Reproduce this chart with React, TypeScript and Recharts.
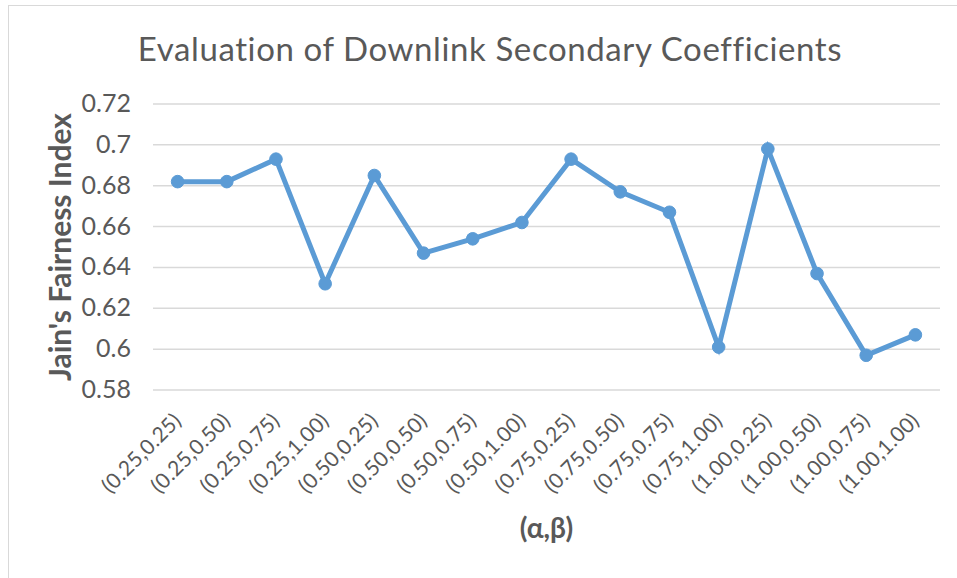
import React from 'react';
import { LineChart, Line, XAxis, YAxis, CartesianGrid } from 'recharts';

const categories = [
  '(0.25,0.25)', '(0.25,0.50)', '(0.25,0.75)', '(0.25,1.00)',
  '(0.50,0.25)', '(0.50,0.50)', '(0.50,0.75)', '(0.50,1.00)',
  '(0.75,0.25)', '(0.75,0.50)', '(0.75,0.75)', '(0.75,1.00)',
  '(1.00,0.25)', '(1.00,0.50)', '(1.00,0.75)', '(1.00,1.00)',
];

const fairness = [
  0.682, 0.682, 0.693, 0.632,
  0.685, 0.647, 0.654, 0.662,
  0.693, 0.677, 0.667, 0.601,
  0.698, 0.637, 0.597, 0.607,
];

const yTicks = [0.58, 0.6, 0.62, 0.64, 0.66, 0.68, 0.7, 0.72];

const data = categories.map((name, i) => ({ name, value: fairness[i] }));

const FONT = 'Lato, "Open Sans", sans-serif';
const GREY = '#595959';

function XTick(props: any) {
  const { x, y, payload } = props;
  const ax = x + 5;
  const ay = y + 24;
  return (
    <text
      x={ax}
      y={ay}
      transform={`rotate(-45, ${ax}, ${ay})`}
      textAnchor="end"
      fill={GREY}
      fontSize={21}
      letterSpacing={0.3}
      fontFamily={FONT}
    >
      {payload.value}
    </text>
  );
}

function YTick(props: any) {
  const { x, y, payload } = props;
  return (
    <text x={x + 1} y={y} dy={8} textAnchor="end" fill={GREY} fontSize={25} fontFamily={FONT}>
      {payload.value}
    </text>
  );
}

function YLabel(props: any) {
  const { viewBox } = props;
  const cy = viewBox.y + viewBox.height / 2;
  return (
    <text
      x={71}
      y={cy}
      transform={`rotate(-90, 71, ${cy})`}
      textAnchor="middle"
      fill={GREY}
      fontSize={30}
      fontWeight="bold"
      fontFamily={FONT}
    >
      Jain's Fairness Index
    </text>
  );
}

export default function App() {
  return (
    <div
      style={{
        position: 'absolute',
        left: 0,
        top: 0,
        width: 957,
        height: 578,
        background: '#fff',
        fontFamily: FONT,
      }}
    >
      {/* chart frame, only the left and top edges fall inside the picture */}
      <div
        style={{
          position: 'absolute',
          left: 8,
          top: 5,
          width: 960,
          height: 580,
          borderLeft: '1px solid #d9d9d9',
          borderTop: '1px solid #d9d9d9',
        }}
      />
      <div
        style={{
          position: 'absolute',
          left: 0,
          width: 980,
          top: 28,
          textAlign: 'center',
          fontSize: 33,
          letterSpacing: 0.6,
          color: GREY,
          lineHeight: '40px',
        }}
      >
        Evaluation of Downlink Secondary Coefficients
      </div>
      <div style={{ position: 'absolute', left: 0, top: 0 }}>
        <LineChart
          width={957}
          height={578}
          data={data}
          margin={{ top: 104, right: 17, bottom: 0, left: 0 }}
        >
          <CartesianGrid vertical={false} stroke="#d9d9d9" strokeWidth={1.5} />
          <XAxis
            dataKey="name"
            axisLine={false}
            tickLine={false}
            interval={0}
            height={188}
            padding={{ left: 24.6, right: 24.6 }}
            tick={<XTick />}
            label={{
              value: '(α,β)',
              position: 'insideBottom',
              offset: 40,
              fill: GREY,
              fontSize: 28,
              fontWeight: 'bold',
              fontFamily: FONT,
            }}
          />
          <YAxis
            domain={[0.58, 0.72]}
            ticks={yTicks}
            axisLine={false}
            tickLine={false}
            tickSize={0}
            tickMargin={23}
            width={153}
            tick={<YTick />}
            label={<YLabel />}
          />
          <Line
            type="linear"
            dataKey="value"
            stroke="#5b9bd5"
            strokeWidth={5}
            dot={{ r: 6.3, fill: '#5b9bd5', stroke: '#5b9bd5', strokeWidth: 1 }}
            isAnimationActive={false}
          />
        </LineChart>
      </div>
    </div>
  );
}
